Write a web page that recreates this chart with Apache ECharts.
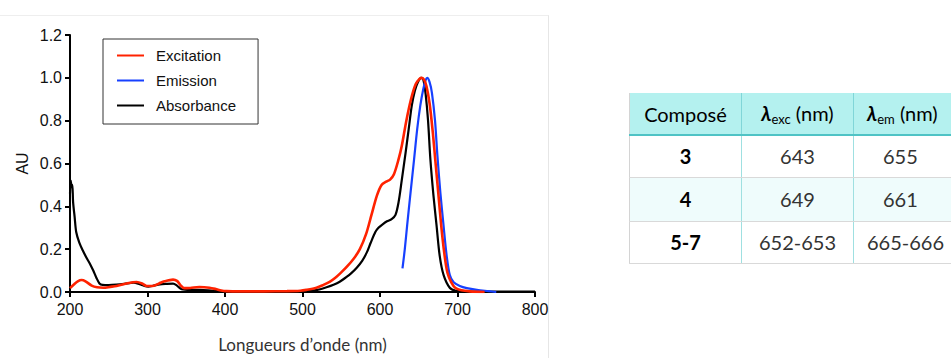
<!DOCTYPE html>
<html>
<head>
<meta charset="utf-8">
<script src="https://cdn.jsdelivr.net/npm/echarts@6/dist/echarts.min.js"></script>
<style>
  html, body { margin: 0; padding: 0; width: 951px; height: 358px; overflow: hidden; background: #fff; }
  #chart { position: absolute; left: 0; top: 0; width: 951px; height: 358px; }
  #frame { position: absolute; left: 0; top: 15px; width: 549px; height: 343px; border-top: 1px solid #eeeeee; border-right: 1px solid #e6e6e6; box-sizing: border-box; }
  #tbl { position: absolute; left: 629px; top: 93px; border-collapse: collapse; font-family: Lato, "Open Sans", sans-serif; font-size: 20px; table-layout: fixed; width: 344px; }
  #tbl td, #tbl th { text-align: center; padding: 0; font-weight: normal; }
  #tbl th { background: #b4f1ef; color: #000; height: 41px; border-bottom: 2px solid #4fc3c5; border-left: 1px solid #80d6d8; }
  #tbl th:first-child { border-left: 1px solid #d4d4d4; }
  #tbl td { color: #333; border-left: 1px solid #9fe0e1; border-bottom: 1px solid #d9d9d9; }
  #tbl td:first-child { border-left: 1px solid #d4d4d4; color: #000; font-weight: bold; }
  #tbl tr.alt td { background: #effcfc; }
  .lam { font-weight: bold; font-style: italic; }
  sub { font-size: 13px; vertical-align: -3px; }
</style>
</head>
<body>
<div id="frame"></div>
<div id="chart"></div>
<table id="tbl">
  <colgroup><col style="width:112px"><col style="width:112px"><col style="width:120px"></colgroup>
  <tr><th>Composé</th><th><span class="lam">λ</span><sub>exc</sub> (nm)</th><th style="text-align:left;padding-left:13px"><span class="lam">λ</span><sub>em</sub> (nm)</th></tr>
  <tr style="height:42px"><td>3</td><td>643</td><td style="text-align:left;padding-left:29px">655</td></tr>
  <tr class="alt" style="height:44px"><td>4</td><td>649</td><td style="text-align:left;padding-left:29px">661</td></tr>
  <tr style="height:42px"><td>5-7</td><td>652-653</td><td style="text-align:left;padding-left:13px">665-666</td></tr>
</table>
<script>
// ---- Data ----
const seriesNames = ["Excitation", "Emission", "Absorbance"];
const xTicks = [200, 300, 400, 500, 600, 700, 800];
const yTicks = [0, 0.2, 0.4, 0.6, 0.8, 1.0, 1.2];

const excWavelength = [200,205,210,215,220,228,235,243,252,260,273,286,293,299,307,315,322,333,338,343,347,355,367,380,388,395,402,420,450,480,497,505,518,527,535,542,549,557,566,574,582,589,596,602,608,613,618,624,628,634,640,646,651,654,657,660,664,668,671,675,679,683,687,692,697,705,716,735];
const excValue      = [0.018,0.035,0.05,0.056,0.05,0.03,0.022,0.02,0.024,0.028,0.04,0.047,0.04,0.028,0.028,0.04,0.05,0.058,0.052,0.03,0.018,0.019,0.023,0.02,0.014,0.007,0.004,0.003,0.003,0.004,0.006,0.01,0.02,0.033,0.047,0.065,0.088,0.117,0.155,0.2,0.27,0.36,0.45,0.5,0.515,0.525,0.55,0.62,0.68,0.8,0.9,0.97,0.995,1.0,0.99,0.96,0.88,0.75,0.63,0.47,0.31,0.18,0.09,0.045,0.02,0.008,0.003,0.0];

const emWavelength = [629,632,635,639,644,648,652,656,659,661,664,667,671,674,678,682,686,690,695,703,712,725,740,750];
const emValue      = [0.11,0.2,0.31,0.45,0.62,0.76,0.87,0.95,0.99,1.0,0.98,0.93,0.8,0.64,0.46,0.31,0.17,0.08,0.045,0.028,0.018,0.01,0.004,0.0];

const absWavelength = [200,201,202,203,204,206,208,212,217,222,226,230,234,238,242,250,260,270,282,290,296,301,308,316,325,333,338,344,355,368,385,400,450,500,515,523,531,540,548,556,563,570,577,583,588,594,598,603,609,615,620,624,628,633,637,641,645,649,653,656,659,662,665,669,673,677,682,690,698,710,800];
const absValue      = [0.46,0.52,0.49,0.5,0.42,0.35,0.28,0.23,0.19,0.155,0.13,0.1,0.067,0.04,0.033,0.032,0.034,0.038,0.044,0.036,0.028,0.025,0.03,0.036,0.038,0.039,0.03,0.013,0.01,0.01,0.005,0.003,0.002,0.004,0.008,0.013,0.022,0.034,0.048,0.068,0.088,0.113,0.145,0.185,0.23,0.28,0.3,0.315,0.33,0.34,0.36,0.42,0.52,0.65,0.76,0.87,0.94,0.98,1.0,0.99,0.92,0.8,0.62,0.45,0.31,0.17,0.08,0.02,0.006,0.002,0.002];

const xLabel = "Longueurs d\u2019onde (nm)";
const yLabel = "AU";

function pairs(xs, ys) { return xs.map((x, i) => [x, ys[i]]); }

const chart = echarts.init(document.getElementById('chart'), null, { renderer: 'svg' });
const axisFont = { fontFamily: 'Liberation Sans, Arial, sans-serif', fontSize: 16, color: '#111' };
chart.setOption({
  backgroundColor: 'transparent',
  animation: false,
  grid: { left: 70, right: 416, top: 35, bottom: 63, containLabel: false },
  legend: {
    data: seriesNames,
    orient: 'vertical',
    left: 103, top: 39,
    padding: [9, 22, 11, 13],
    itemGap: 10,
    itemWidth: 27, itemHeight: 14,
    borderColor: '#333', borderWidth: 1,
    itemStyle: { opacity: 0 },
    textStyle: { fontFamily: 'Liberation Sans, Arial, sans-serif', fontSize: 15, color: '#111', padding: [0, 0, 0, 7] }
  },
  xAxis: {
    type: 'value', min: xTicks[0], max: xTicks[xTicks.length - 1], interval: 100,
    splitLine: { show: false },
    axisLine: { lineStyle: { color: '#000', width: 2 } },
    axisTick: { length: 5, lineStyle: { color: '#000', width: 2 } },
    axisLabel: Object.assign({ margin: 9 }, axisFont),
    name: xLabel, nameLocation: 'middle', nameGap: 44,
    nameTextStyle: { fontFamily: 'Lato, "Open Sans", sans-serif', fontSize: 17, color: '#333' }
  },
  yAxis: {
    type: 'value', min: yTicks[0], max: yTicks[yTicks.length - 1], interval: 0.2,
    splitLine: { show: false },
    axisLine: { show: true, lineStyle: { color: '#000', width: 2 } },
    axisTick: { show: true, length: 5, lineStyle: { color: '#000', width: 2 } },
    axisLabel: Object.assign({ margin: 8, formatter: v => v.toFixed(1) }, axisFont),
    name: yLabel, nameLocation: 'middle', nameGap: 40, nameRotate: 90,
    nameTextStyle: { fontFamily: 'Liberation Sans, Arial, sans-serif', fontSize: 16, color: '#111' }
  },
  series: [
    { name: seriesNames[2], type: 'line', z: 2, data: pairs(absWavelength, absValue), showSymbol: false, symbol: 'none', smooth: 0.3,
      lineStyle: { color: '#000', width: 2.2 }, itemStyle: { color: '#000' } },
    { name: seriesNames[1], type: 'line', z: 3, data: pairs(emWavelength, emValue), showSymbol: false, symbol: 'none', smooth: 0.3,
      lineStyle: { color: '#1740ff', width: 2.2 }, itemStyle: { color: '#1740ff' } },
    { name: seriesNames[0], type: 'line', z: 4, data: pairs(excWavelength, excValue), showSymbol: false, symbol: 'none', smooth: 0.3,
      lineStyle: { color: '#ff2200', width: 2.6 }, itemStyle: { color: '#ff2200' } }
  ]
});
</script>
</body>
</html>
